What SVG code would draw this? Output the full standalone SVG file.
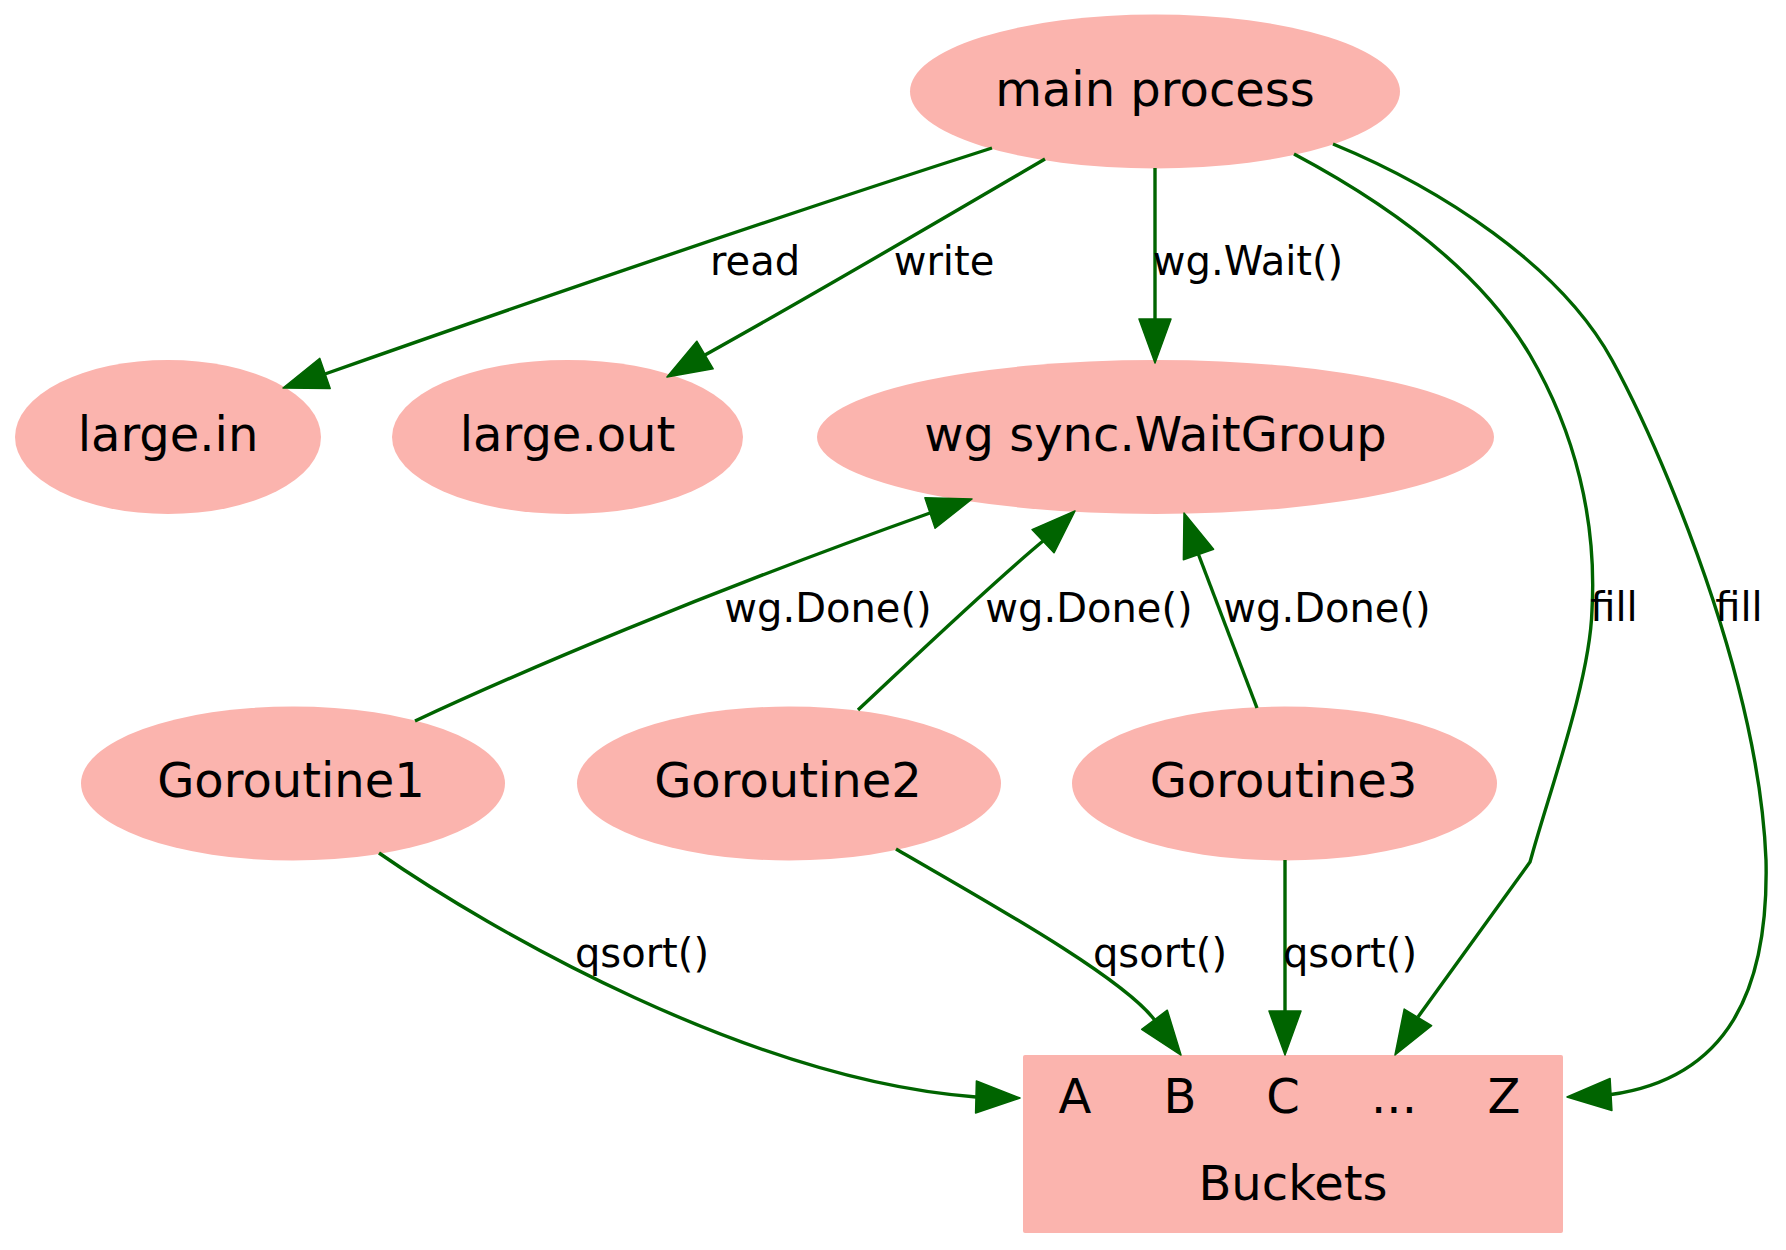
<svg xmlns="http://www.w3.org/2000/svg" width="1786" height="1250" viewBox="0 0 1786 1250">
  <style>
    .shape { fill: #fbb4ae; stroke: none; }
    .nl { font-family: "DejaVu Sans", "Liberation Sans", sans-serif; font-size: 48px; fill: #000; text-anchor: middle; }
    .el { font-family: "DejaVu Sans", "Liberation Sans", sans-serif; font-size: 40px; fill: #000; text-anchor: middle; }
    .edge path { fill: none; stroke: #006400; stroke-width: 3.4; }
    .edge polygon { fill: #006400; stroke: #006400; stroke-width: 1.5; stroke-linejoin: round; }
  </style>
  <rect width="1786" height="1250" fill="#ffffff"/>

  <g id="node-main">
    <ellipse class="shape" cx="1155" cy="91.5" rx="245" ry="77"/>
    <text class="nl" x="1155" y="106">main process</text>
  </g>
  <g id="node-large-in">
    <ellipse class="shape" cx="168" cy="437" rx="153" ry="77"/>
    <text class="nl" x="168" y="451">large.in</text>
  </g>
  <g id="node-large-out">
    <ellipse class="shape" cx="567.5" cy="437" rx="175.5" ry="77"/>
    <text class="nl" x="567.5" y="451">large.out</text>
  </g>
  <g id="node-wg">
    <ellipse class="shape" cx="1155.5" cy="437" rx="338.5" ry="77"/>
    <text class="nl" x="1155.5" y="451">wg sync.WaitGroup</text>
  </g>
  <g id="node-g1">
    <ellipse class="shape" cx="293" cy="783.5" rx="212" ry="77"/>
    <text class="nl" x="291" y="797">Goroutine1</text>
  </g>
  <g id="node-g2">
    <ellipse class="shape" cx="789" cy="783.5" rx="212" ry="77"/>
    <text class="nl" x="788" y="797">Goroutine2</text>
  </g>
  <g id="node-g3">
    <ellipse class="shape" cx="1284.5" cy="783.5" rx="212.5" ry="77"/>
    <text class="nl" x="1283.5" y="797">Goroutine3</text>
  </g>
  <g id="node-buckets">
    <rect class="shape" x="1023" y="1055" width="540" height="178" rx="2" ry="2"/>
    <text class="nl" x="1075" y="1113">A</text>
    <text class="nl" x="1180" y="1113">B</text>
    <text class="nl" x="1283" y="1113">C</text>
    <text class="nl" x="1394" y="1113">...</text>
    <text class="nl" x="1504" y="1113">Z</text>
    <text class="nl" x="1293" y="1200">Buckets</text>
  </g>

  <g id="edges" class="edge">
    <!-- main -> large.in : read -->
    <path d="M992,148 C830,200 600,277 325,374"/>
    <polygon points="283,388 319.8,358.4 330.2,388.6"/>
    <text class="el" x="755" y="275">read</text>

    <!-- main -> large.out : write -->
    <path d="M1045,159 C930,226 820,291 705,355"/>
    <polygon points="667,377 696.8,341.2 713.2,368.8"/>
    <text class="el" x="944" y="275">write</text>

    <!-- main -> wg : wg.Wait() -->
    <path d="M1155,168 L1155,319"/>
    <polygon points="1155,363 1139,319 1171,319"/>
    <text class="el" x="1248" y="275">wg.Wait()</text>

    <!-- main -> Buckets ... : fill -->
    <path d="M1294,154 C1390,205 1480,270 1530,355 C1575,432 1597,520 1592,610 C1590,680 1550,790 1532,855 L1530,862 L1418,1017"/>
    <polygon points="1395,1055 1404.2,1009.1 1431.6,1025.7"/>
    <text class="el" x="1614" y="621">fill</text>

    <!-- main -> Buckets Z : fill -->
    <path d="M1333,144 C1440,188 1560,265 1612,360 C1652,433 1690,530 1713,600 C1733,661 1762,760 1766,860 C1769,990 1728,1078 1611,1094.5"/>
    <polygon points="1567,1097 1610.1,1078.5 1611.9,1110.5"/>
    <text class="el" x="1739" y="621">fill</text>

    <!-- Goroutine1 -> wg : wg.Done() -->
    <path d="M415,721 C520,672 700,595 930,513"/>
    <polygon points="972,499 924.9,497.8 935.1,528.2"/>
    <text class="el" x="828" y="622">wg.Done()</text>

    <!-- Goroutine2 -> wg : wg.Done() -->
    <path d="M858,710 C920,652 990,585 1043,541"/>
    <polygon points="1075,511 1032,529.6 1054,552.8"/>
    <text class="el" x="1089" y="622">wg.Done()</text>

    <!-- Goroutine3 -> wg : wg.Done() -->
    <path d="M1257,708 L1198.5,554.5"/>
    <polygon points="1184,513 1183.4,559.8 1213.6,549.2"/>
    <text class="el" x="1327" y="622">wg.Done()</text>

    <!-- Goroutine1 -> Buckets A : qsort() -->
    <path d="M379,853 C490,930 750,1080 976,1097"/>
    <polygon points="1020,1098 976.4,1081 975.6,1113"/>
    <text class="el" x="642" y="967">qsort()</text>

    <!-- Goroutine2 -> Buckets B : qsort() -->
    <path d="M896,849 C980,898 1120,975 1154.5,1019.8"/>
    <polygon points="1181,1055 1141.7,1029.4 1167.3,1010.2"/>
    <text class="el" x="1160" y="967">qsort()</text>

    <!-- Goroutine3 -> Buckets C : qsort() -->
    <path d="M1285,860 L1285,1011"/>
    <polygon points="1285,1055 1269,1011 1301,1011"/>
    <text class="el" x="1350" y="967">qsort()</text>
  </g>
</svg>
